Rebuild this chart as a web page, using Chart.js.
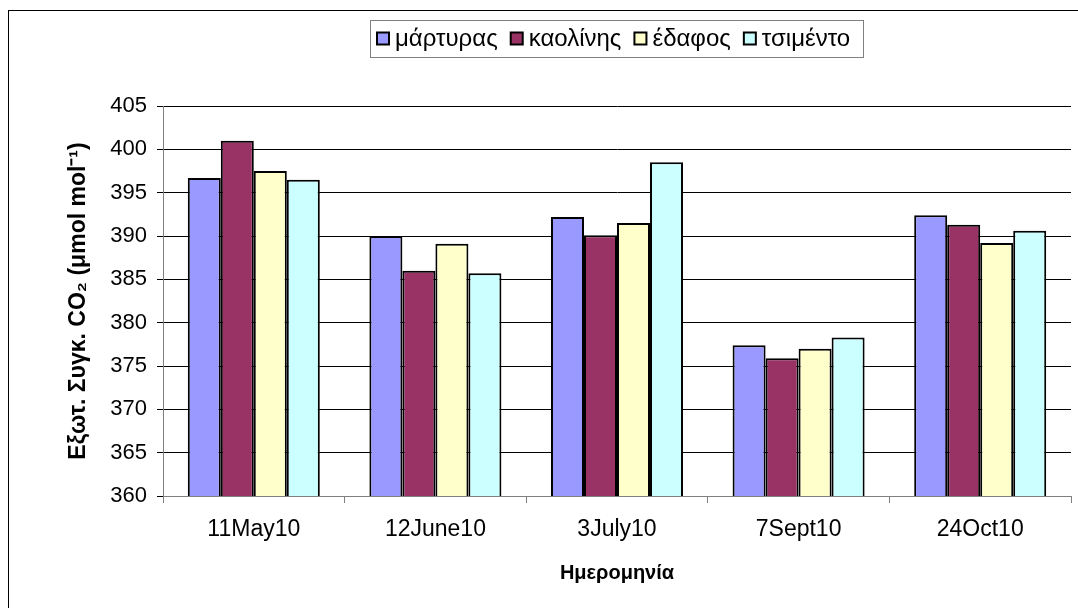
<!DOCTYPE html>
<html>
<head>
<meta charset="utf-8">
<script src="https://cdn.jsdelivr.net/npm/chart.js@4.4.0/dist/chart.umd.min.js"></script>
<style>
  html, body { margin: 0; padding: 0; background: #fff; }
  #wrap { width: 1078px; height: 608px; position: relative; }
</style>
</head>
<body>
<div id="wrap"><canvas id="myChart"></canvas></div>
<script>
const fechas = ['11May10', '12June10', '3July10', '7Sept10', '24Oct10'];
const martyras = [396.7, 390.0, 392.2, 377.4, 392.4];
const kaolinis = [401.0, 386.0, 390.1, 375.9, 391.3];
const edafos = [397.5, 389.1, 391.5, 377.0, 389.2];
const tsimento = [396.5, 385.7, 398.5, 378.3, 390.6];
const yTicks = [360, 365, 370, 375, 380, 385, 390, 395, 400, 405];

const fuente = "'Liberation Sans', Arial, sans-serif";

// marco exterior + leyenda con recuadro (centrada sobre el area del grafico)
const marcos = {
  id: 'marcos',
  afterDraw(chart) {
    const ctx = chart.ctx;
    const area = chart.chartArea;
    ctx.save();
    ctx.strokeStyle = '#000';
    ctx.lineWidth = 1;
    ctx.strokeRect(8.5, 10.5, 1080, 610);

    ctx.font = '24px ' + fuente;
    const items = chart.data.datasets.map(d => ({
      text: d.label, color: d.backgroundColor, w: ctx.measureText(d.label).width
    }));
    const cuadro = 12, gap = 6, entre = 13;
    let ancho = items.reduce((s, it) => s + cuadro + gap + it.w, 0) + entre * (items.length - 1);
    const boxW = ancho + 20;
    const cx = (area.left + area.right) / 2;
    const bx = Math.round(cx - boxW / 2);
    const by = 20, bh = 37;
    ctx.strokeStyle = '#808080';
    ctx.strokeRect(bx + 0.5, by + 0.5, Math.round(boxW), bh);

    let x = bx + 7;
    const cy = by + bh / 2;
    ctx.textBaseline = 'middle';
    items.forEach(it => {
      ctx.fillStyle = it.color;
      ctx.fillRect(x, cy - 6, cuadro, cuadro);
      ctx.strokeStyle = '#000';
      ctx.lineWidth = 2;
      ctx.strokeRect(x, cy - 6, cuadro, cuadro);
      ctx.fillStyle = '#000';
      ctx.fillText(it.text, x + cuadro + gap, cy + 1);
      x += cuadro + gap + it.w + entre;
    });
    ctx.restore();
  }
};

function serie(label, data, color) {
  return {
    label: label,
    data: data,
    backgroundColor: color,
    borderColor: '#000',
    borderWidth: 2,
    borderSkipped: 'bottom',
    categoryPercentage: 0.727,
    barPercentage: 1.0
  };
}

const ctx = document.getElementById('myChart').getContext('2d');
const myChart = new Chart(ctx, {
  type: 'bar',
  data: {
    labels: fechas,
    datasets: [
      serie('μάρτυρας', martyras, '#9999FF'),
      serie('καολίνης', kaolinis, '#993366'),
      serie('έδαφος', edafos, '#FFFFCC'),
      serie('τσιμέντο', tsimento, '#CCFFFF')
    ]
  },
  options: {
    responsive: true,
    maintainAspectRatio: false,
    animation: false,
    layout: { padding: { left: 0, right: 7, top: 106, bottom: 0 } },
    plugins: {
      tooltip: { enabled: false },
      legend: { display: false }
    },
    scales: {
      x: {
        grid: {
          display: true,
          drawOnChartArea: false,
          drawTicks: true,
          tickLength: 7,
          color: '#808080',
          offset: true
        },
        border: { display: true, color: '#808080', width: 1 },
        ticks: { color: '#000', font: { family: fuente, size: 23 }, padding: 13, maxRotation: 0 },
        title: {
          display: true,
          text: 'Ημερομηνία',
          color: '#000',
          font: { family: fuente, size: 20, weight: 'bold' },
          padding: { top: 0, bottom: 23 }
        },
        afterFit(scale) { scale.height = 112; }
      },
      y: {
        min: 360,
        max: 405,
        afterBuildTicks(scale) { scale.ticks = yTicks.map(v => ({ value: v })); },
        grid: {
          color: '#000',
          lineWidth: 1,
          drawTicks: true,
          tickLength: 6,
          tickColor: '#000'
        },
        border: { display: true, color: '#808080', width: 1 },
        ticks: { color: '#000', font: { family: fuente, size: 22 }, padding: 10 },
        title: {
          display: true,
          text: 'Εξωτ. Συγκ. CO₂ (μmol mol⁻¹)',
          color: '#000',
          font: { family: fuente, size: 23, weight: 'bold' },
          padding: { top: 65, bottom: 0 }
        },
        afterFit(scale) { scale.width = 163; }
      }
    }
  },
  plugins: [marcos]
});
</script>
</body>
</html>
